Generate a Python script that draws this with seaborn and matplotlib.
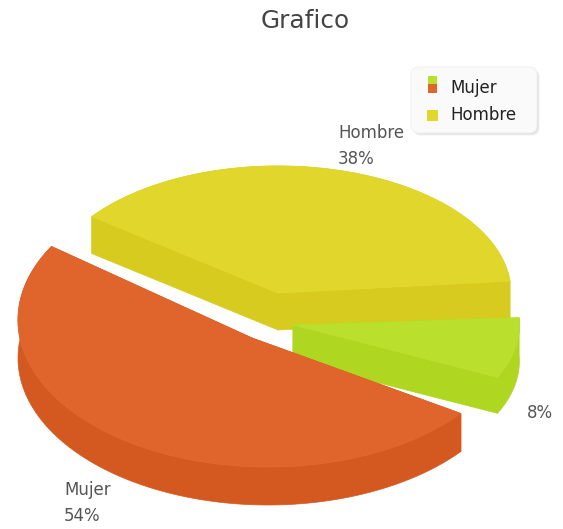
import numpy as np
import pandas as pd
import matplotlib
matplotlib.use("Agg")
import matplotlib.pyplot as plt
import seaborn as sns
from matplotlib.patches import FancyBboxPatch, Polygon

# chart values
names = ["Hombre", "Green", "Mujer"]
percents = [38, 8, 54]
legend_labels = ["Mujer", "Hombre"]
title = "Grafico"

# look of each slice: apex, ellipse centre and radii, start angle, angle squeeze
top_colors = ["#E1D72C", "#BADF2C", "#E0652C"]
side_colors = ["#D8CB20", "#AFD620", "#D35921"]
apex = [(278, 293), (293, 325), (252, 338)]
centers = [(278, 293), (293, 325), (268, 320)]
radii = [(233, 127), (226.4, 122), (250, 147)]
starts = [5.4, -25.4, 150]
squeeze = [1.006, 1.0, 0.877]
depth = [37, 36, 38]

sns.set_theme(style="white")
plt.rcParams["font.family"] = ["DejaVu Sans"]

fig, ax = plt.subplots(figsize=(5.63, 5.29), dpi=100)
fig.subplots_adjust(left=0, right=1, bottom=0, top=1)
ax.set_xlim(0, 563)
ax.set_ylim(529, 0)
ax.axis("off")


def rim(i):
    sweep = percents[i] / sum(percents) * 360 * squeeze[i]
    t = np.radians(np.linspace(starts[i], starts[i] + sweep, 120))
    x = centers[i][0] + radii[i][0] * np.cos(t)
    y = centers[i][1] - radii[i][1] * np.sin(t)
    return x, y


def wall(x, y, d, color, z):
    # extrude a top edge straight down
    pts = np.r_[np.c_[x, y], np.c_[x[::-1], y[::-1] + d]]
    ax.add_patch(Polygon(pts, closed=True, fc=color, ec=color, lw=0.5, zorder=z))


for i in range(len(percents)):
    x, y = rim(i)
    ax_, ay = apex[i]
    z = 2 + i
    # outer wall, then the two flat cuts, then the top
    wall(x, y, depth[i], side_colors[i], z)
    wall(np.array([x[0], ax_]), np.array([y[0], ay]), depth[i], side_colors[i], z)
    wall(np.array([ax_, x[-1]]), np.array([ay, y[-1]]), depth[i], side_colors[i], z)
    top = np.r_[[[ax_, ay]], np.c_[x, y]]
    ax.add_patch(Polygon(top, closed=True, fc=top_colors[i], ec=top_colors[i], lw=0.6, zorder=z))

# slice labels
label_color = "#555555"
ax.text(338, 133, names[0], color=label_color, fontsize=12, va="center", zorder=8)
ax.text(338, 159, f"{percents[0]}%", color=label_color, fontsize=12, va="center", zorder=8)
ax.text(527, 413, f"{percents[1]}%", color=label_color, fontsize=12, va="center", zorder=8)
ax.text(64, 490, names[2], color=label_color, fontsize=12, va="center", zorder=8)
ax.text(64, 516, f"{percents[2]}%", color=label_color, fontsize=12, va="center", zorder=8)

ax.text(305, 21, title, color="#444444", fontsize=17.8, ha="center", va="center", zorder=8)

# legend box with soft shadow
for off, a in [(3, 0.03), (2, 0.05), (1, 0.07)]:
    ax.add_patch(FancyBboxPatch((411 + off, 67 + off), 126, 66, boxstyle="round,pad=0,rounding_size=8",
                                fc="#000000", ec="none", alpha=a, zorder=5))
ax.add_patch(FancyBboxPatch((411, 67), 126, 66, boxstyle="round,pad=0,rounding_size=8",
                            fc="#FAFAFA", ec="#F2F2F2", lw=0.8, zorder=6))

# legend swatches (the first entry shows two colours stacked)
swatches = pd.DataFrame({
    "x": [432.5, 432.5, 432.5],
    "y": [80.5, 88.5, 115.5],
    "c": ["Green", "Mujer", "Hombre"],
})
sns.scatterplot(data=swatches, x="x", y="y", hue="c", marker="s", s=[42, 42, 52], linewidth=0, legend=False,
                palette={"Green": top_colors[1], "Mujer": top_colors[2], "Hombre": top_colors[0]},
                ax=ax, zorder=7)
ax.axis("off")
ax.set_xlim(0, 563)
ax.set_ylim(529, 0)

ax.text(450, 88, legend_labels[0], color="#222222", fontsize=12, va="center", zorder=8)
ax.text(450, 115, legend_labels[1], color="#222222", fontsize=12, va="center", zorder=8)

fig.savefig("out.png", dpi=100)
plt.close(fig)
